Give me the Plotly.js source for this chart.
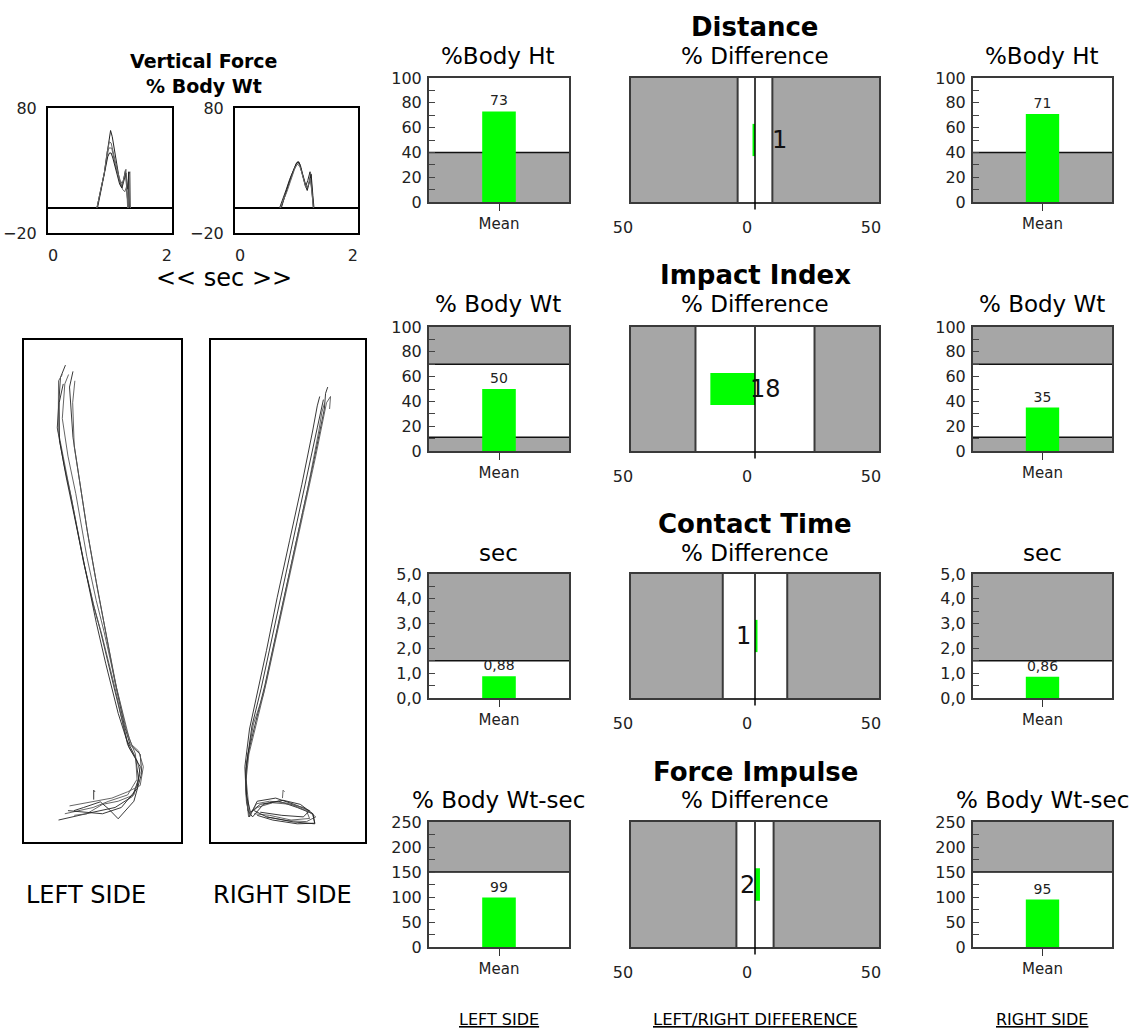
<!DOCTYPE html>
<html><head><meta charset="utf-8">
<script src="https://cdn.plot.ly/plotly-3.0.1.min.js"></script>
<style>html,body{margin:0;padding:0;background:#fff}</style>
</head><body><div id="chart" style="width:1135px;height:1028px"></div>
<script>
// ---------------- DATA ----------------
const metrics = ['Distance', 'Impact Index', 'Contact Time', 'Force Impulse'];
const units = ['%Body Ht', '% Body Wt', 'sec', '% Body Wt-sec'];
const barCategory = ['Mean'];
const leftMean = [73, 50, 0.88, 99];
const rightMean = [71, 35, 0.86, 95];
const pctDiff = [-1, -18, 1, 2];
const pctDiffText = ['1', '18', '1', '2'];
const diffLabelX = [9.7, 4.2, -4.8, -3.2];
const yMax = [100, 100, 5, 250];
const yDtick = [20, 20, 1, 50];
const yMinor = [10, 10, 0.5, 25];
const normalLow = [40, 11, 0, 0];
const normalHigh = [100, 70, 1.5, 150];
const diffTolerance = [7, 24, 13, 7.5];
const diffTicks = [-50, 0, 50];
const diffTickText = ['50', '0', '50'];

// vertical force (% body wt) vs time (sec)
const forceLeftX = [
  [0.77,0.84,0.90,0.95,0.99,1.01,1.04,1.08,1.12,1.16,1.20,1.24,1.27,1.30,1.32],
  [0.77,0.84,0.90,0.95,0.98,1.03,1.06,1.10,1.14,1.18,1.22,1.26,1.29,1.32,1.33,1.35,1.36],
  [0.78,0.85,0.91,0.96,0.99,1.02,1.05,1.09,1.13,1.17,1.21,1.25,1.28,1.31,1.33,1.34],
  [0.77,0.84,0.90,0.95,0.99,1.02,1.06,1.10,1.14,1.18,1.22,1.25,1.28,1.31]
];
const forceLeftY = [
  [0,14,28,44,58,62,57,45,34,24,17,23,30,12,0],
  [0,14,28,42,48,48,41,33,27,20,15,13,17,0,27,29,0],
  [0,15,29,41,44,44,40,33,26,19,16,22,28,15,29,0],
  [0,14,28,45,53,52,45,36,28,22,19,26,31,0]
];
const forceRightX = [
  [0.70,0.76,0.82,0.88,0.94,0.99,1.02,1.05,1.08,1.12,1.16,1.20,1.24,1.27,1.30],
  [0.72,0.78,0.84,0.90,0.95,1.00,1.03,1.06,1.10,1.14,1.18,1.22,1.25,1.28,1.30],
  [0.73,0.79,0.85,0.91,0.96,1.00,1.04,1.07,1.11,1.15,1.19,1.23,1.26,1.29,1.31],
  [0.71,0.77,0.83,0.89,0.94,0.98,1.02,1.06,1.09,1.13,1.17,1.21,1.24,1.27,1.30]
];
const forceRightY = [
  [0,7,15,23,30,35,37,36,31,24,17,22,29,15,0],
  [0,8,16,24,30,34,36,34,28,21,15,20,28,12,0],
  [0,10,18,26,32,36,37,34,27,20,14,21,27,10,0],
  [0,6,13,21,28,33,35,33,29,23,16,18,24,14,0]
];
const forceXTicks = [0, 2];
const forceYTicks = [-20, 80];

// leg trajectories (cm)
const legLeftX = [
  [13.2,11.6,10.6,12.8,15,19,22,24.3,28.5,32.8,35.5,36.5,34.5,29,22,15,11],
  [12.2,11,10.9,13,15.2,19.3,22.3,24.8,29,33,36,37,35,30,25,20,16],
  [15.6,14.5,15.6,17.5,20,23,26,29,32,33.8,37,37.5,35,30,27,24.3,19,15.9],
  [14.2,13,12.2,14,16.5,20,23,25.5,29.5,33.5,35.5,36,33,27,22,17,13],
  [12.5,11.2,11.3,13.5,16,20,23,26,30,33.5,37,36,31,25,19,14],
  [16.2,15.5,16,18,20.5,23.5,26.5,29.5,32.5,34.3,36.5,38,37,33,28,23,18,14.5],
  [22.2,22.2,22.6]
];
const legLeftY = [
  [152,148,132,120,110,89,76,67.5,50,32.4,27,20,14.5,11,9.5,8,7],
  [149,147,131,120,109,88,75,66,49,31,26,22,15,13,12,9,8.5],
  [150,145,129,116,100,83,67,51,37,31,28,22,13,7.4,10.5,12.8,11,10],
  [149,146,135,123,111,91,77,67,49,33,28,20,15,13,11,10,9],
  [146,140,128,116,104,84,70,57,41,30,24,17,11,9,9.5,10],
  [147,140,126,113,97,80,64,49,36,31,29,24,18,16,14,13,12,11.5],
  [13.5,16.5,16]
];
const legRightX = [
  [37.9,37.2,36.8,33.5,29.5,25.5,21.5,17.5,14.2,12,11.2,12,13.5,17,22,28,33,33.7,28,20,15],
  [38.5,38.8,37.5,34,30,26,22,18,14.8,12.3,11.4,12.5,15,20,26,31,32,26,19,14],
  [35.3,34.5,33,29.5,25.5,21.5,18,15,12.5,11,11.5,12.5,15,21,27,32,30,23,16],
  [36.9,36,35,31.5,27.5,24,20.5,17,13.8,11.5,11.2,12.2,14.8,19,24,30,34,31,25,18],
  [36.5,35.8,34.5,31,27,23.3,19.8,16.3,13.3,11.3,11.5,12.8,16,23.4,29,33.1,33.7,26.7,18.1,14],
  [23.2,23.4,23.9]
];
const legRightY = [
  [145,143,138,122,104,86,68,50,37,28,20,10,8,12,13,11,9,6,5.8,7,8.5],
  [138,142,140,123,105,87,69,51,38,28,20,9,11,12.5,12,10,7.5,7,8.5,9],
  [142,139,131,114,96,78,61,47,36,24,13,8,13,14,12,10,8,8.5,9.5],
  [140,137,131,113,95,79,62,47,37.7,25,17,8,12.2,13,12.5,11,8,6.5,6.8,8],
  [141,138,132,116,98,81,65,49,37,23,15,9.5,12,13.3,12,9,5.8,6.4,8,10],
  [14,16.5,16]
];

// ---------------- LAYOUT HELPERS ----------------
const W = 1135, H = 1028;
const FONT = 'DejaVu Sans, Verdana, sans-serif';
const GRAY = '#a6a6a6', EDGE = '#3a3a3a', GREEN = '#00ff00', TXT = '#1a1a1a';
const dxr = (a, b) => [a / W, b / W];
const dyr = (t, b) => [1 - b / H, 1 - t / H];
const ax = n => (n === 1 ? '' : String(n));

const layout = {
  width: W, height: H,
  margin: {l: 0, r: 0, t: 0, b: 0},
  paper_bgcolor: '#fff', plot_bgcolor: '#fff',
  showlegend: false,
  separators: ',.',
  font: {family: FONT, color: TXT},
  shapes: [], annotations: []
};
const data = [];

function boxAxis(extra) {
  return Object.assign({
    showline: true, mirror: true, linecolor: '#000', linewidth: 2,
    showgrid: false, zeroline: false, fixedrange: true
  }, extra);
}

// force plots (axes 1,2)
const forceBoxes = [[48, 172], [235, 358]];
const forceSets = [[forceLeftX, forceLeftY], [forceRightX, forceRightY]];
forceBoxes.forEach((bx, i) => {
  const n = i + 1;
  layout['xaxis' + ax(n)] = boxAxis({
    domain: dxr(bx[0], bx[1]), anchor: 'y' + ax(n), range: [-0.09, 2.09],
    tickvals: forceXTicks, ticks: '', tickfont: {size: 16, color: '#222'}, ticklabelstandoff: 7
  });
  layout['yaxis' + ax(n)] = boxAxis({
    domain: dyr(108, 233), anchor: 'x' + ax(n), range: [-20, 80],
    tickvals: forceYTicks, ticks: '', tickfont: {size: 16, color: '#222'}, ticklabelstandoff: 6,
    zeroline: true, zerolinecolor: '#000', zerolinewidth: 2
  });
  const [xs, ys] = forceSets[i];
  xs.forEach((x, k) => data.push({
    type: 'scatter', mode: 'lines', x: x, y: ys[k],
    xaxis: 'x' + ax(n), yaxis: 'y' + ax(n),
    line: {color: k % 2 ? '#666' : '#222', width: 1}, hoverinfo: 'skip'
  }));
});

// leg plots (axes 3,4)
const legBoxes = [[24, 181], [211, 365]];
const legSets = [[legLeftX, legLeftY], [legRightX, legRightY]];
legBoxes.forEach((bx, i) => {
  const n = i + 3;
  layout['xaxis' + n] = boxAxis({domain: dxr(bx[0], bx[1]), anchor: 'y' + n, range: [0, 50], showticklabels: false, ticks: ''});
  layout['yaxis' + n] = boxAxis({domain: dyr(340, 842), anchor: 'x' + n, range: [0, 160], showticklabels: false, ticks: ''});
  const [xs, ys] = legSets[i];
  xs.forEach((x, k) => data.push({
    type: 'scatter', mode: 'lines', x: x, y: ys[k],
    xaxis: 'x' + n, yaxis: 'y' + n,
    line: {color: k % 2 ? '#555' : '#222', width: 0.9}, hoverinfo: 'skip'
  }));
});

// metric rows
const rowY = [[78, 202], [327, 451], [574, 698], [822, 947]];
const barBoxes = [[429, 569], [973, 1112]];
const diffBox = [631, 879];

metrics.forEach((m, r) => {
  const yd = dyr(rowY[r][0], rowY[r][1]);
  [0, 1].forEach(side => {
    const n = 5 + r * 3 + (side === 0 ? 0 : 2);
    const val = side === 0 ? leftMean[r] : rightMean[r];
    layout['xaxis' + n] = boxAxis({
      domain: dxr(barBoxes[side][0], barBoxes[side][1]), anchor: 'y' + n,
      type: 'category', range: [-0.5, 0.5], linecolor: EDGE,
      ticks: 'outside', ticklen: 7, tickcolor: '#333', tickwidth: 1,
      tickfont: {size: 15, color: '#222'}
    });
    layout['yaxis' + n] = boxAxis({
      domain: yd, anchor: 'x' + n, range: [0, yMax[r]], linecolor: EDGE,
      dtick: yDtick[r], tick0: 0, tickformat: r === 2 ? '.1f' : 'd',
      ticks: 'inside', ticklen: 6, tickcolor: '#444', tickwidth: 1,
      minor: {dtick: yMinor[r], ticks: 'inside', ticklen: 6, tickcolor: '#444', tickwidth: 1},
      tickfont: {size: 16, color: '#222'}, ticklabelstandoff: 2
    });
    if (normalLow[r] > 0) {
      layout.shapes.push({type: 'rect', layer: 'below', xref: 'x' + n + ' domain', yref: 'y' + n,
        x0: 0, x1: 1, y0: 0, y1: normalLow[r], fillcolor: GRAY, line: {width: 0}});
      layout.shapes.push({type: 'line', layer: 'below', xref: 'x' + n + ' domain', yref: 'y' + n,
        x0: 0, x1: 1, y0: normalLow[r], y1: normalLow[r], line: {color: '#111', width: 1.5}});
    }
    if (normalHigh[r] < yMax[r]) {
      layout.shapes.push({type: 'rect', layer: 'below', xref: 'x' + n + ' domain', yref: 'y' + n,
        x0: 0, x1: 1, y0: normalHigh[r], y1: yMax[r], fillcolor: GRAY, line: {width: 0}});
      layout.shapes.push({type: 'line', layer: 'below', xref: 'x' + n + ' domain', yref: 'y' + n,
        x0: 0, x1: 1, y0: normalHigh[r], y1: normalHigh[r], line: {color: '#111', width: 1.5}});
    }
    data.push({
      type: 'bar', x: barCategory, y: [val], width: 0.24,
      xaxis: 'x' + n, yaxis: 'y' + n,
      marker: {color: GREEN, line: {width: 0}},
      text: [val], texttemplate: r === 2 ? '%{y:.2f}' : '%{y}',
      textposition: 'outside', cliponaxis: false, constraintext: 'none',
      textfont: {size: 14, color: '#222'}, hoverinfo: 'skip'
    });
  });
  const n = 6 + r * 3;
  layout['xaxis' + n] = boxAxis({
    domain: dxr(diffBox[0], diffBox[1]), anchor: 'y' + n, range: [-50, 50], linecolor: EDGE,
    tickvals: diffTicks, ticktext: diffTickText, ticks: '',
    tickfont: {size: 16, color: '#222'}, ticklabelshift: -8, ticklabelstandoff: 10
  });
  layout['yaxis' + n] = boxAxis({
    domain: yd, anchor: 'x' + n, type: 'category', range: [-0.5, 0.5], linecolor: EDGE,
    showticklabels: false, ticks: ''
  });
  const tol = diffTolerance[r];
  [[-50, -tol], [tol, 50]].forEach(([a, b]) => {
    layout.shapes.push({type: 'rect', layer: 'below', xref: 'x' + n, yref: 'y' + n + ' domain',
      x0: a, x1: b, y0: 0, y1: 1, fillcolor: GRAY, line: {width: 0}});
  });
  [-tol, tol].forEach(v => layout.shapes.push({type: 'line', layer: 'below', xref: 'x' + n, yref: 'y' + n + ' domain',
    x0: v, x1: v, y0: 0, y1: 1, line: {color: EDGE, width: 2}}));
  layout.shapes.push({type: 'line', layer: 'above', xref: 'x' + n, yref: 'y' + n + ' domain',
    x0: 0, x1: 0, y0: -0.06, y1: 1, line: {color: '#000', width: 1.5}});
  data.push({
    type: 'bar', orientation: 'h', x: [pctDiff[r]], y: ['d'], width: 0.26,
    xaxis: 'x' + n, yaxis: 'y' + n, marker: {color: GREEN, line: {width: 0}}, hoverinfo: 'skip'
  });
  layout.annotations.push({xref: 'x' + n, yref: 'y' + n, x: diffLabelX[r], y: 'd',
    text: pctDiffText[r], showarrow: false, font: {size: 24, color: '#111'}});
});

// ---------------- TEXT ----------------
function txt(t, px, py, size, opt) {
  layout.annotations.push(Object.assign({
    xref: 'paper', yref: 'paper', x: px / W, y: 1 - py / H, text: t, showarrow: false,
    xanchor: 'center', yanchor: 'middle', font: {size: size, color: '#000', family: FONT}
  }, opt || {}));
}
const rowTitleY = [27, 275, 524, 772];
const rowUnitY = [56, 304, 553, 800];
metrics.forEach((m, r) => {
  txt('<b>' + m + '</b>', 755, rowTitleY[r], 26);
  txt('% Difference', 755, rowUnitY[r], 23);
  txt(units[r], 498, rowUnitY[r], 23);
  txt(units[r], 1042, rowUnitY[r], 23);
});
txt('<b>Vertical Force</b>', 204, 61, 19);
txt('<b>% Body Wt</b>', 204, 86, 19);
txt('&lt;&lt; sec &gt;&gt;', 224, 278, 24);
txt('LEFT SIDE', 86, 895, 24);
txt('RIGHT SIDE', 282, 895, 24);
txt('<u>LEFT SIDE</u>', 499, 1019, 16);
txt('<u>LEFT/RIGHT DIFFERENCE</u>', 755, 1019, 16.5);
txt('<u>RIGHT SIDE</u>', 1042, 1019, 16);

Plotly.newPlot('chart', data, layout, {staticPlot: true, displayModeBar: false});
</script></body></html>
